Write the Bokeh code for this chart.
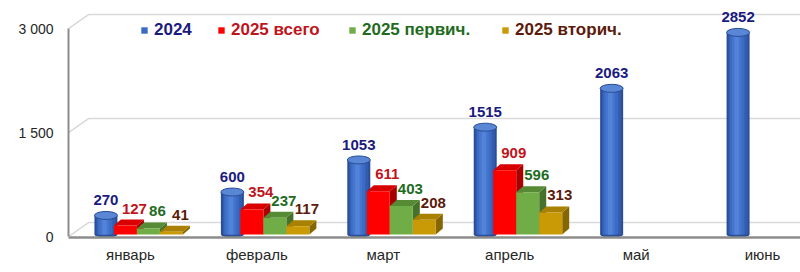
import numpy as np
from bokeh.plotting import figure
from bokeh.models import Range1d, FixedTicker, Legend, LegendItem, ColumnDataSource
from bokeh.core.properties import value
from bokeh.embed import file_html
from bokeh.resources import INLINE

# ---------------- data ----------------
months = ["январь", "февраль", "март", "апрель", "май", "июнь"]
series_2024 = [270, 600, 1053, 1515, 2063, 2852]
total_2025 = [127, 354, 611, 909]
primary_2025 = [86, 237, 403, 596]
secondary_2025 = [41, 117, 208, 313]
y_ticks = [0, 1500, 3000]
y_tick_labels = ["0", "1 500", "3 000"]
legend_labels = ["2024", "2025 всего", "2025 первич.", "2025 вторич."]

# ---------------- geometry / style ----------------
W, H = 800, 272
LEFT, BOTTOM = 68, 35
X0, X1 = -0.49, 5.30
Y0, Y1 = -14, 3404          # axis (wall) scale
B0, B1 = -41, 3302          # bar scale (bars sit slightly behind front edge)
fw, fh = W - LEFT, H - BOTTOM
px_x = fw / (X1 - X0)
px_y = fh / (Y1 - Y0)
px_b = fh / (B1 - B0)

def ux(px):
    return px / px_x

wall_dx, wall_dy = ux(20), 14 / px_y
box_dx, box_dy = ux(7), 6 / px_b
bar_w = ux(23)
off_blue, off_red, off_green, off_gold = ux(-24.5), ux(-5), ux(18), ux(41)
LABEL_FONT = "Liberation Sans"

p = figure(width=W, height=H, x_range=Range1d(X0, X1), y_range=Range1d(Y0, Y1),
           output_backend="svg", toolbar_location=None,
           min_border_left=LEFT, min_border_right=0, min_border_top=0,
           min_border_bottom=BOTTOM)
p.extra_y_ranges = {"bars": Range1d(B0, B1)}
p.outline_line_color = None
p.xgrid.visible = False
p.ygrid.visible = False
p.background_fill_color = "white"
p.border_fill_color = "white"

# back wall gridlines + floor back edge
p.multi_line(xs=[[X0, X0 + wall_dx, X1] for v in y_ticks],
             ys=[[v, v + wall_dy, v + wall_dy] for v in y_ticks],
             line_color="#d9d9d9", line_width=1.5)

# axes
ya = p.yaxis[0]
ya.ticker = FixedTicker(ticks=y_ticks)
ya.major_label_overrides = {t: l for t, l in zip(y_ticks, y_tick_labels)}
ya.bounds = (y_ticks[0], y_ticks[-1])
ya.axis_line_color = "#8c8c8c"
ya.axis_line_width = 2
ya.major_tick_out = 0
ya.major_tick_in = 0
ya.minor_tick_out = 0
ya.minor_tick_in = 0
ya.major_label_standoff = 15
ya.major_label_text_font = "Liberation Sans"
ya.major_label_text_font_size = "14px"
ya.major_label_text_color = "#262626"

xa = p.xaxis[0]
xa.ticker = FixedTicker(ticks=list(range(len(months))))
xa.major_label_overrides = {i: m for i, m in enumerate(months)}
xa.axis_line_color = "#8c8c8c"
xa.axis_line_width = 2.5
xa.major_tick_out = 0
xa.major_tick_in = 0
xa.minor_tick_out = 0
xa.minor_tick_in = 0
xa.major_label_standoff = 8
xa.major_label_text_font = "Liberation Sans"
xa.major_label_text_font_size = "15px"
xa.major_label_text_color = "#262626"

# ---------------- 2024 cylinders ----------------
xb = [i + off_blue for i in range(len(series_2024))]
cyl = ColumnDataSource(dict(x=xb, top=series_2024, lab=[str(v) for v in series_2024]))
p.ellipse(x="x", y=0, width=bar_w, height=6 / px_b, source=cyl, y_range_name="bars",
          fill_color="#2a4d96", line_color=None)
p.vbar(x="x", bottom=0, top="top", width=bar_w, source=cyl, y_range_name="bars",
       fill_color="#2a4d96", line_color=None)
strips = [(0.84, "#325cae", 0.0), (0.64, "#3b6bc3", -0.04), (0.42, "#4576cf", -0.06), (0.2, "#5283d8", -0.06)]
blue_leg = None
for frac, col, sh in strips:
    r = p.vbar(x=[v + sh * bar_w for v in xb], bottom=0, top=series_2024, width=bar_w * frac,
               y_range_name="bars", fill_color=col, line_color=None)
    if frac == 0.64:
        blue_leg = r
p.ellipse(x="x", y="top", width=bar_w, height=8 / px_b, source=cyl, y_range_name="bars",
          fill_color="#5a86d6", line_color="#2a4d96", line_width=1)
p.text(x="x", y="top", text="lab", source=cyl, y_range_name="bars",
       text_font=value(LABEL_FONT), text_font_style="bold",
       text_font_size="15px", text_align="center", text_baseline="middle",
       y_offset=-15, text_color="#1a1a80")

# ---------------- 2025 boxes ----------------
def boxes(vals, off, front, top, side, lab_col):
    xc = [i + off for i in range(len(vals))]
    xl = [x - bar_w / 2 for x in xc]
    xr = [x + bar_w / 2 for x in xc]
    side_xs = [[r, r + box_dx, r + box_dx, r] for r in xr]
    side_ys = [[0, box_dy, v + box_dy, v] for v in vals]
    top_xs = [[l, l + box_dx, r + box_dx, r] for l, r in zip(xl, xr)]
    top_ys = [[v, v + box_dy, v + box_dy, v] for v in vals]
    p.patches(xs=side_xs, ys=side_ys, y_range_name="bars", fill_color=side, line_color=None)
    p.patches(xs=top_xs, ys=top_ys, y_range_name="bars", fill_color=top, line_color=None)
    r = p.vbar(x=xc, bottom=0, top=vals, width=bar_w, y_range_name="bars",
               fill_color=front, line_color=None)
    p.text(x=xc, y=vals, text=[str(v) for v in vals], y_range_name="bars",
           text_font=value(LABEL_FONT), text_font_style="bold",
           text_font_size="15px", text_align="center", text_baseline="middle",
           x_offset=9, y_offset=-17, text_color=lab_col)
    return r

red_r = boxes(total_2025, off_red, "#ff0000", "#d90000", "#a80000", "#c0141c")
green_r = boxes(primary_2025, off_green, "#70ad47", "#578a35", "#45712a", "#1e6b1e")
gold_r = boxes(secondary_2025, off_gold, "#c99a06", "#a98000", "#866600", "#5c1a0a")

# ---------------- legend ----------------
leg_specs = [
    (legend_labels[0], blue_leg, 72, "#1a1a80"),
    (legend_labels[1], red_r, 149, "#c0141c"),
    (legend_labels[2], green_r, 280, "#1e6b1e"),
    (legend_labels[3], gold_r, 433, "#5c1a0a"),
]
for lab, rend, lx, col in leg_specs:
    lg = Legend(items=[LegendItem(label=lab, renderers=[rend])], location=(lx, 197),
                orientation="horizontal", padding=0, margin=0, spacing=0,
                glyph_width=8, glyph_height=8, label_standoff=6, label_height=20,
                label_text_font="Liberation Sans", label_text_font_style="bold",
                label_text_font_size="17px", label_text_color=col,
                border_line_alpha=0, background_fill_alpha=0)
    p.add_layout(lg, "center")

open("out.html", "w").write(file_html(p, INLINE))
